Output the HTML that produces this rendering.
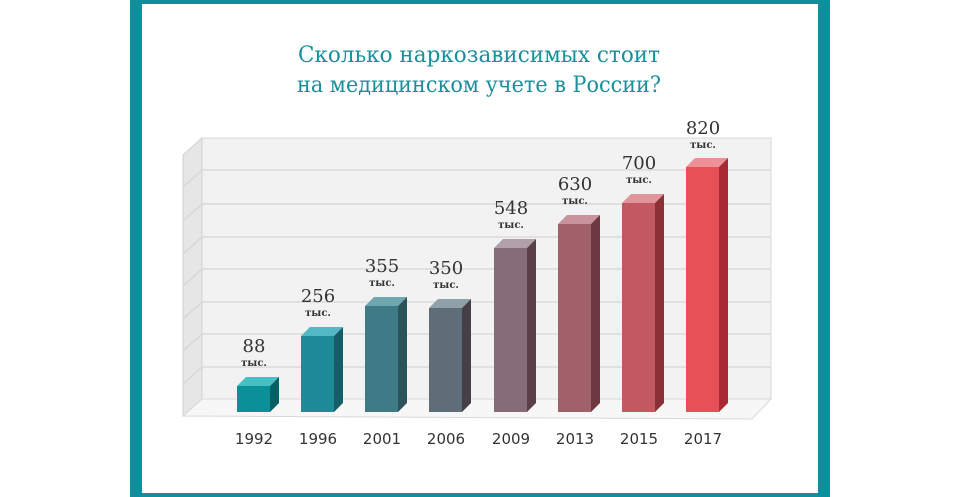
<!DOCTYPE html>
<html><head><meta charset="utf-8"><style>
body{margin:0;background:#fff;}
</style></head><body>
<svg width="960" height="497" xmlns="http://www.w3.org/2000/svg" style="display:block">
<rect x="136" y="-2" width="688" height="501" fill="#fff" stroke="#0e8f9c" stroke-width="12"/>
<text x="479" y="62" text-anchor="middle" font-family="DejaVu Serif, serif" font-size="22" fill="#1a8f9b" textLength="362" lengthAdjust="spacingAndGlyphs">Сколько наркозависимых стоит</text>
<text x="479" y="92" text-anchor="middle" font-family="DejaVu Serif, serif" font-size="22" fill="#1a8f9b" textLength="364" lengthAdjust="spacingAndGlyphs">на медицинском учете в России?</text>
<rect x="202" y="138" width="569" height="261" fill="#f2f2f2" stroke="#d8d8d8"/>
<polygon points="183,155 202,138 202,399 183,416" fill="#e6e6e6" stroke="#d0d0d0"/>
<polygon points="183,416 202,399 771,399 752,419" fill="#f7f7f7" stroke="#d8d8d8"/>
<g stroke="#d6d6d6" stroke-width="1.2">
<line x1="202" y1="170" x2="771" y2="170"/><line x1="183" y1="187" x2="202" y2="170"/>
<line x1="202" y1="204" x2="771" y2="204"/><line x1="183" y1="221" x2="202" y2="204"/>
<line x1="202" y1="237" x2="771" y2="237"/><line x1="183" y1="254" x2="202" y2="237"/>
<line x1="202" y1="269" x2="771" y2="269"/><line x1="183" y1="286" x2="202" y2="269"/>
<line x1="202" y1="302" x2="771" y2="302"/><line x1="183" y1="319" x2="202" y2="302"/>
<line x1="202" y1="334" x2="771" y2="334"/><line x1="183" y1="351" x2="202" y2="334"/>
<line x1="202" y1="367" x2="771" y2="367"/><line x1="183" y1="384" x2="202" y2="367"/>
</g>
<g fill="#333">
<g font-family="DejaVu Serif, serif" text-anchor="middle">
<text x="254" y="352" font-size="18">88</text><text x="254" y="366" font-size="10" font-weight="bold">тыс.</text>
<text x="318" y="302" font-size="18">256</text><text x="318" y="316" font-size="10" font-weight="bold">тыс.</text>
<text x="382" y="272" font-size="18">355</text><text x="382" y="286" font-size="10" font-weight="bold">тыс.</text>
<text x="446" y="274" font-size="18">350</text><text x="446" y="288" font-size="10" font-weight="bold">тыс.</text>
<text x="511" y="214" font-size="18">548</text><text x="511" y="228" font-size="10" font-weight="bold">тыс.</text>
<text x="575" y="190" font-size="18">630</text><text x="575" y="204" font-size="10" font-weight="bold">тыс.</text>
<text x="639" y="169" font-size="18">700</text><text x="639" y="183" font-size="10" font-weight="bold">тыс.</text>
<text x="703" y="134" font-size="18">820</text><text x="703" y="148" font-size="10" font-weight="bold">тыс.</text>
</g>
<g font-family="DejaVu Sans, sans-serif" text-anchor="middle" font-size="15">
<text x="254" y="444">1992</text><text x="318" y="444">1996</text><text x="382" y="444">2001</text><text x="446" y="444">2006</text>
<text x="511" y="444">2009</text><text x="575" y="444">2013</text><text x="639" y="444">2015</text><text x="703" y="444">2017</text>
</g>
<polygon points="237,386 270,386 279,377 246,377" fill="#45c0c4"/><polygon points="270,386 279,377 279,403 270,412" fill="#075f66"/><rect x="237" y="386" width="33" height="26" fill="#0b8f98"/>
<polygon points="301,336 334,336 343,327 310,327" fill="#52b8c2"/><polygon points="334,336 343,327 343,403 334,412" fill="#155e68"/><rect x="301" y="336" width="33" height="76" fill="#1f8a98"/>
<polygon points="365,306 398,306 407,297 374,297" fill="#6fa7b0"/><polygon points="398,306 407,297 407,403 398,412" fill="#2b535b"/><rect x="365" y="306" width="33" height="106" fill="#3f7b86"/>
<polygon points="429,308 462,308 471,299 438,299" fill="#8fa0a8"/><polygon points="462,308 471,299 471,403 462,412" fill="#463f48"/><rect x="429" y="308" width="33" height="104" fill="#5f6d78"/>
<polygon points="494,248 527,248 536,239 503,239" fill="#b0a0a8"/><polygon points="527,248 536,239 536,403 527,412" fill="#5a3e48"/><rect x="494" y="248" width="33" height="164" fill="#866c76"/>
<polygon points="558,224 591,224 600,215 567,215" fill="#c8939a"/><polygon points="591,224 600,215 600,403 591,412" fill="#6e3840"/><rect x="558" y="224" width="33" height="188" fill="#a0616a"/>
<polygon points="622,203 655,203 664,194 631,194" fill="#e0959a"/><polygon points="655,203 664,194 664,403 655,412" fill="#8c3038"/><rect x="622" y="203" width="33" height="209" fill="#c25860"/>
<polygon points="686,167 719,167 728,158 695,158" fill="#ee9098"/><polygon points="719,167 728,158 728,403 719,412" fill="#aa2a34"/><rect x="686" y="167" width="33" height="245" fill="#e85058"/>
</g>
</svg>
</body></html>
